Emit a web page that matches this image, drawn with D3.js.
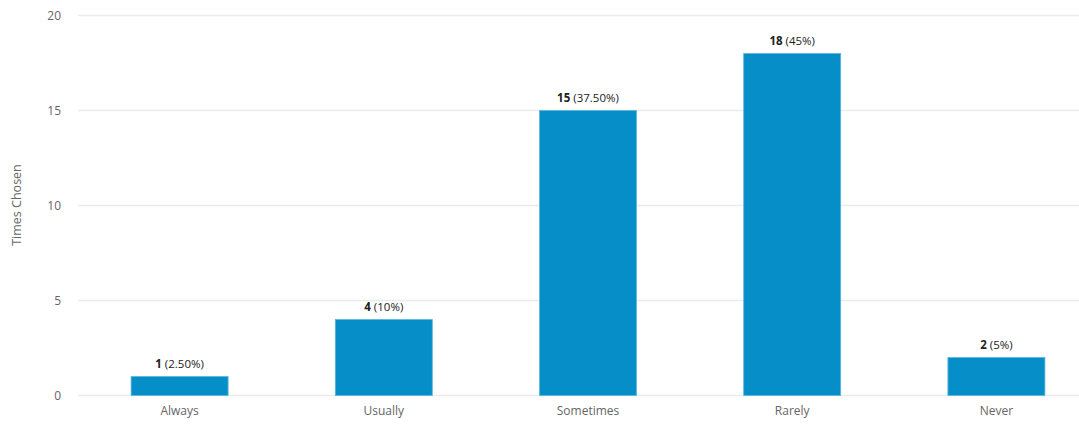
<!DOCTYPE html>
<html lang="en">
<head>
    <meta charset="utf-8">
    <title>Times Chosen</title>
    <script src="https://d3js.org/d3.v7.min.js" charset="utf-8"></script>
    <style>
        body { margin: 0; background: #fff; }
        * { font-family: "Open Sans", "DejaVu Sans", sans-serif; }
        .grid line { stroke: #ececec; stroke-width: 1.5; }
        .tick-label { fill: #666; font-size: 12px; }
        .bar-label { fill: #222; font-size: 11.5px; }
    </style>
</head>
<body>
    <div id="chart"></div>
    <script type="text/javascript">
      // values
      var categories = ["Always", "Usually", "Sometimes", "Rarely", "Never"]
      var counts = [1, 4, 15, 18, 2]
      var percents = ["2.50%", "10%", "37.50%", "45%", "5%"]
      var yTicks = [0, 5, 10, 15, 20]

      var width = 1079, height = 424

      var svg = d3.select("#chart")
        .append("svg")
        .attr("width", width)
        .attr("height", height)

      var x = d3.scaleBand()
        .domain(categories)
        .range([77.5, 1098.5])
        .paddingInner(0.525)
        .paddingOuter(0.2625)

      var y = d3.scaleLinear()
        .domain([0, 20])
        .range([395.5, 15.5])

      // grid lines
      svg.append("g")
        .attr("class", "grid")
        .selectAll("line")
        .data(yTicks)
        .join("line")
        .attr("x1", 78)
        .attr("x2", width)
        .attr("y1", d => y(d))
        .attr("y2", d => y(d))

      // y tick labels
      svg.append("g")
        .selectAll("text")
        .data(yTicks)
        .join("text")
        .attr("class", "tick-label")
        .attr("x", 61)
        .attr("y", d => y(d))
        .attr("dy", "0.35em")
        .attr("text-anchor", "end")
        .text(d => d)

      // y axis title
      svg.append("text")
        .attr("class", "tick-label")
        .attr("transform", "translate(21," + 205 + ") rotate(-90)")
        .attr("text-anchor", "middle")
        .style("font-size", "12.5px")
        .text("Times Chosen")

      // bars
      svg.append("g")
        .selectAll("rect")
        .data(counts)
        .join("rect")
        .attr("x", (d, i) => x(categories[i]))
        .attr("width", x.bandwidth())
        .attr("y", d => y(d))
        .attr("height", d => y(0) - y(d))
        .attr("fill", "#068ec9")
        .attr("stroke", "#5db6dd")
        .attr("stroke-width", 0.8)

      // value labels
      var labels = svg.append("g")
        .selectAll("text")
        .data(counts)
        .join("text")
        .attr("class", "bar-label")
        .attr("x", (d, i) => x(categories[i]) + x.bandwidth() / 2)
        .attr("y", d => y(d) - 9)
        .attr("text-anchor", "middle")

      labels.append("tspan")
        .style("font-weight", "bold")
        .text(d => d)

      labels.append("tspan")
        .text((d, i) => " (" + percents[i] + ")")

      // category labels
      svg.append("g")
        .selectAll("text")
        .data(categories)
        .join("text")
        .attr("class", "tick-label")
        .attr("x", d => x(d) + x.bandwidth() / 2)
        .attr("y", 415)
        .attr("text-anchor", "middle")
        .text(d => d)
    </script>
</body>
</html>
